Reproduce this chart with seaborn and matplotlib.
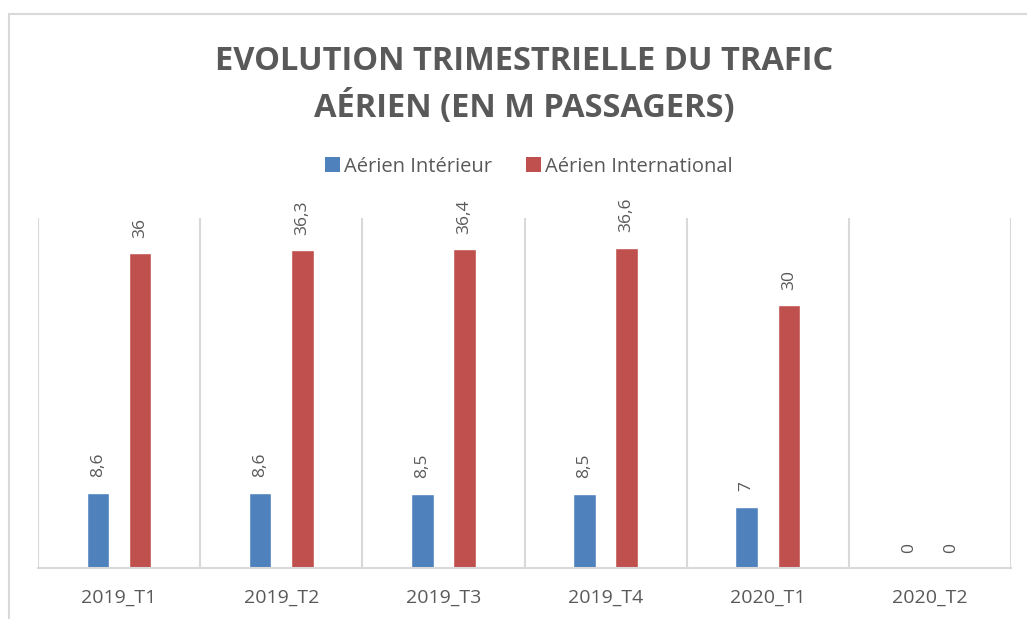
import pandas as pd
import matplotlib.pyplot as plt
import seaborn as sns
from matplotlib.lines import Line2D
from matplotlib.patches import Patch

quarters = ["2019_T1", "2019_T2", "2019_T3", "2019_T4", "2020_T1", "2020_T2"]
interieur = [8.6, 8.6, 8.5, 8.5, 7, 0]
international = [36, 36.3, 36.4, 36.6, 30, 0]
series = ["Aérien Intérieur", "Aérien International"]
colors = ["#4F81BD", "#C0504D"]
grey = "#595959"
line_grey = "#D9D9D9"

df = pd.DataFrame({
    "quarter": quarters * 2,
    "value": interieur + international,
    "serie": [series[0]] * len(quarters) + [series[1]] * len(quarters),
})

sns.set_theme(style="white")
plt.rcParams["font.family"] = ["Open Sans", "DejaVu Sans"]

fig = plt.figure(figsize=(10.27, 6.19), dpi=100)
ax = fig.add_axes([38 / 1027, 1 - 568 / 619, (1011 - 38) / 1027, 350 / 619])

sns.barplot(
    data=df,
    x="quarter",
    y="value",
    hue="serie",
    order=quarters,
    hue_order=series,
    palette=colors,
    width=0.52,
    gap=0.47,
    saturation=1,
    legend=False,
    ax=ax,
)

for cont, vals in zip(ax.containers, [interieur, international]):
    ax.bar_label(
        cont,
        labels=[f"{v:g}".replace(".", ",") for v in vals],
        rotation=90,
        padding=11,
        color=grey,
        fontsize=12.5,
    )

ax.set_xlim(-0.5, len(quarters) - 0.5)
ax.set_ylim(0, 40)
ax.set_yticks([])
ax.set_xlabel("")
ax.set_ylabel("")
ax.set_xticks([i + 0.5 for i in range(-1, len(quarters))], minor=True)
ax.grid(which="minor", axis="x", color=line_grey, linewidth=1.5)
ax.tick_params(axis="x", which="both", length=0)
ax.tick_params(axis="x", which="major", pad=15, labelsize=14, labelcolor=grey)
for s in ["top", "left", "right"]:
    ax.spines[s].set_visible(False)
ax.spines["bottom"].set_color(line_grey)
ax.spines["bottom"].set_linewidth(1.5)

fig.text(0.51, 0.863, "EVOLUTION TRIMESTRIELLE DU TRAFIC\nAÉRIEN (EN M PASSAGERS)",
         ha="center", va="center", fontsize=23.5, fontweight="bold", color=grey,
         linespacing=1.45)

handles = [Patch(facecolor=c, edgecolor="none") for c in colors]
fig.legend(handles, series, loc="center", bbox_to_anchor=(0.515, 0.731), ncol=2,
           frameon=False, fontsize=14.5, labelcolor=grey, handlelength=0.75,
           handleheight=0.75, handletextpad=0.2, columnspacing=1.7)

# chart frame
fig.add_artist(Line2D([8.5 / 1027, 1.0], [1 - 13.5 / 619] * 2, color=line_grey, lw=1.5))
fig.add_artist(Line2D([8.5 / 1027] * 2, [0, 1 - 13.5 / 619], color=line_grey, lw=1.5))

fig.savefig("out.png", dpi=100)
